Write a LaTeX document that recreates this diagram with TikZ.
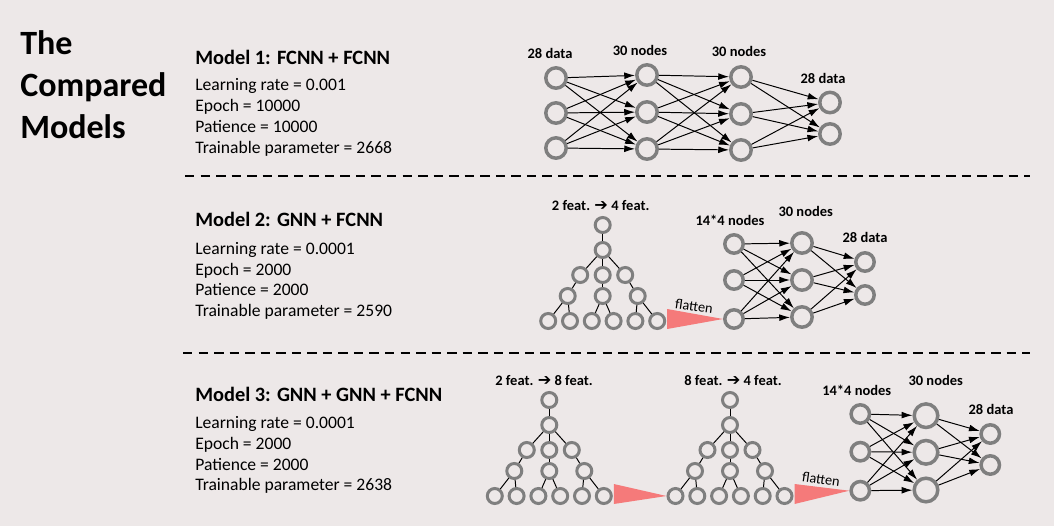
\documentclass[tikz,border=0pt]{standalone}
\usepackage{fontspec}
\setmainfont{Carlito}
\newfontfamily\arrowfont{DejaVu Sans}
\usepackage{tikz}
\usetikzlibrary{calc}
\usetikzlibrary{arrows.meta}
\tikzset{>=stealth}
\definecolor{bggray}{RGB}{237,232,232}
\definecolor{ringgray}{RGB}{127,127,127}
\definecolor{flatred}{RGB}{245,122,122}
\tikzstyle{line} = [draw, -{Latex[length=0.27cm,width=0.17cm]}, line width=0.7pt]
\tikzstyle{tree} = [draw, -, line width=0.7pt]
\newcommand{\feat}{{\arrowfont\fontsize{11.5}{12}\selectfont ➔}}
%% one GNN tree: prefix, x and y of the top node
\newcommand{\gnntree}[3]{%
	\begin{scope}[shift={(#2,#3)}]
	\node [gnode] (#1t) at (0,0) {};
	\node [gnode] (#1s) at (0,25) {};
	\node [gnode] (#1r1) at (-22.5,50) {};
	\node [gnode] (#1r2) at (0,50) {};
	\node [gnode] (#1r3) at (22.5,50) {};
	\node [gnode] (#1q1) at (-35,71) {};
	\node [gnode] (#1q2) at (0,71) {};
	\node [gnode] (#1q3) at (35,71) {};
	\foreach \k/\xx in {1/-54.5,2/-32.7,3/-10.9,4/10.9,5/32.7,6/54.5}
	\node [gnode] (#1l\k) at (\xx,96) {};
	\end{scope}
	\path [tree] (#1t) to (#1s);
	\foreach \k in {1,2,3} \path [tree] (#1s) to (#1r\k);
	\foreach \k in {1,2,3} \path [tree] (#1r\k) to (#1q\k);
	\path [tree] (#1q1) to (#1l1);
	\path [tree] (#1q1) to (#1l2);
	\path [tree] (#1q2) to (#1l3);
	\path [tree] (#1q2) to (#1l4);
	\path [tree] (#1q3) to (#1l5);
	\path [tree] (#1q3) to (#1l6);
}

\begin{document}
\begin{tikzpicture}[x=0.025cm, y=-0.025cm,
	neuron/.style={circle, draw=ringgray, line width=0.0875cm, inner sep=0pt, minimum size=0.51cm},
	smallneuron/.style={neuron, minimum size=0.46cm},
	bigneuron/.style={neuron, minimum size=0.59cm},
	gnode/.style={circle, draw=ringgray, line width=0.075cm, inner sep=0pt, minimum size=0.375cm},
	title/.style={anchor=base west, inner sep=0pt, font=\fontsize{24.2}{29}\selectfont\bfseries},
	head/.style={anchor=base west, inner sep=0pt, font=\fontsize{14.5}{17}\selectfont\bfseries},
	param/.style={anchor=base west, inner sep=0pt, font=\fontsize{12.5}{15}\selectfont},
	lbl/.style={anchor=base, inner sep=0pt, font=\fontsize{10.3}{12}\selectfont\bfseries},
	sep/.style={draw, line width=1.6pt, dash pattern=on 6.75pt off 4.3pt}]
	\useasboundingbox (0,0) rectangle (1054,526);
	\fill [bggray] (0,0) rectangle (1054,526);
	%% Title
	\node [title] (ttl1) at (20,54.5) {The};
	\node [title] (ttl2) at (20,96.5) {Compared};
	\node [title] (ttl3) at (20,138.5) {Models};
	%% Model 1
	\node [head] (h1) at (195,64.3) {Model 1: FCNN + FCNN};
	\node [param] (p1a) at (195,90.5) {Learning rate = 0.001};
	\node [param] (p1b) at (195,111.5) {Epoch = 10000};
	\node [param] (p1c) at (195,132) {Patience = 10000};
	\node [param] (p1d) at (195,153) {Trainable parameter = 2668};
	\node [neuron] (m1a1) at (556,78) {};
	\node [neuron] (m1a2) at (556,113) {};
	\node [neuron] (m1a3) at (556,148) {};
	\node [neuron] (m1b1) at (647,75) {};
	\node [neuron] (m1b2) at (647,112) {};
	\node [neuron] (m1b3) at (647,149) {};
	\node [neuron] (m1c1) at (741,77) {};
	\node [neuron] (m1c2) at (741,114) {};
	\node [neuron] (m1c3) at (741,150) {};
	\node [neuron] (m1d1) at (830,102.5) {};
	\node [neuron] (m1d2) at (830,134) {};
	\node [lbl] (m1la) at (550,58.3) {28 data};
	\node [lbl] (m1lb) at (640,55) {30 nodes};
	\node [lbl] (m1lc) at (739,56.7) {30 nodes};
	\node [lbl] (m1ld) at (823,83.3) {28 data};
	\foreach \i in {1,2,3} \foreach \j in {1,2,3} \path [line] (m1a\i) to (m1b\j);
	\foreach \i in {1,2,3} \foreach \j in {1,2,3} \path [line] (m1b\i) to (m1c\j);
	\foreach \i in {1,2,3} \foreach \j in {1,2} \path [line] (m1c\i) to (m1d\j);
	%%
	\path [sep] (185,175.7) to (1030,175.7);
	%% Model 2
	\node [head] (h2) at (195,226) {Model 2: GNN + FCNN};
	\node [param] (p2a) at (195,254) {Learning rate = 0.0001};
	\node [param] (p2b) at (195,275) {Epoch = 2000};
	\node [param] (p2c) at (195,295.7) {Patience = 2000};
	\node [param] (p2d) at (195,316.7) {Trainable parameter = 2590};
	\gnntree{g2}{602.7}{225}
	\node [smallneuron] (m2a1) at (734,244) {};
	\node [smallneuron] (m2a2) at (734,280) {};
	\node [smallneuron] (m2a3) at (734,319) {};
	\node [neuron] (m2b1) at (802,243) {};
	\node [neuron] (m2b2) at (802,280) {};
	\node [neuron] (m2b3) at (802,317) {};
	\node [smallneuron] (m2c1) at (865,262) {};
	\node [smallneuron] (m2c2) at (865,295) {};
	\node [lbl] (m2lg) at (600.7,210) {2 feat. \feat\ 4 feat.};
	\node [lbl] (m2la) at (730,225) {14*4 nodes};
	\node [lbl] (m2lb) at (805.7,216.7) {30 nodes};
	\node [lbl] (m2lc) at (865,242.3) {28 data};
	\fill [flatred] ($(g2l6.east)+(1,-12)$) -- ($(g2l6.east)+(1,8)$) -- (m2a3.west) -- cycle;
	\node [rotate=-8, inner sep=0pt, font=\fontsize{10.2}{12}\selectfont] (fl2) at (694,306.5) {flatten};
	\foreach \i in {1,2,3} \foreach \j in {1,2,3} \path [line] (m2a\i) to (m2b\j);
	\foreach \i in {1,2,3} \foreach \j in {1,2} \path [line] (m2b\i) to (m2c\j);
	%%
	\path [sep] (183,353.3) to (1030,353.3);
	%% Model 3
	\node [head] (h3) at (195,401.7) {Model 3: GNN + GNN + FCNN};
	\node [param] (p3a) at (195,428.3) {Learning rate = 0.0001};
	\node [param] (p3b) at (195,449.3) {Epoch = 2000};
	\node [param] (p3c) at (195,470) {Patience = 2000};
	\node [param] (p3d) at (195,490.7) {Trainable parameter = 2638};
	\gnntree{g3}{549.3}{400}
	\gnntree{h3}{730}{400}
	\node [smallneuron] (m3a1) at (860.3,414) {};
	\node [smallneuron] (m3a2) at (860.3,451.7) {};
	\node [smallneuron] (m3a3) at (860.3,490.7) {};
	\node [bigneuron] (m3b1) at (926,415.7) {};
	\node [bigneuron] (m3b2) at (926,452.3) {};
	\node [bigneuron] (m3b3) at (926,490) {};
	\node [smallneuron] (m3c1) at (990.3,434) {};
	\node [smallneuron] (m3c2) at (990.3,465) {};
	\node [lbl] (m3lg) at (544,385) {2 feat. \feat\ 8 feat.};
	\node [lbl] (m3lh) at (733,385) {8 feat. \feat\ 4 feat.};
	\node [lbl] (m3la) at (856.7,395) {14*4 nodes};
	\node [lbl] (m3lb) at (935.7,385) {30 nodes};
	\node [lbl] (m3lc) at (991,414.3) {28 data};
	\fill [flatred] ($(g3l6.east)+(1,-12)$) -- ($(g3l6.east)+(1,8)$) -- (h3l1.west) -- cycle;
	\fill [flatred] ($(h3l6.east)+(1,-12)$) -- ($(h3l6.east)+(1,8)$) -- (m3a3.west) -- cycle;
	\node [rotate=-8, inner sep=0pt, font=\fontsize{10.2}{12}\selectfont] (fl3) at (821,479.5) {flatten};
	\foreach \i in {1,2,3} \foreach \j in {1,2,3} \path [line] (m3a\i) to (m3b\j);
	\foreach \i in {1,2,3} \foreach \j in {1,2} \path [line] (m3b\i) to (m3c\j);
\end{tikzpicture}
\end{document}
